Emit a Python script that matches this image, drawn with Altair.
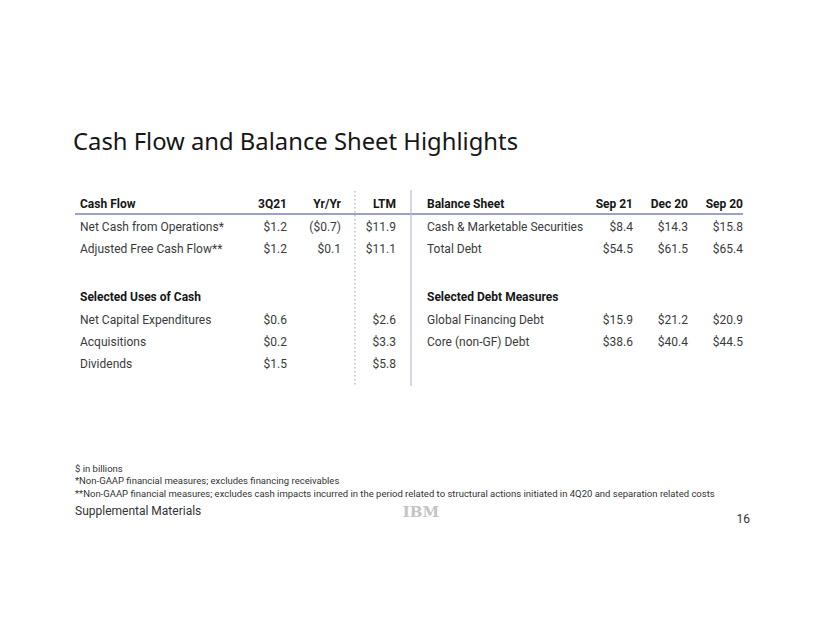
import altair as alt
import pandas as pd

# ---------------- data ----------------
title_text = "Cash Flow and Balance Sheet Highlights"

cf_header = ["Cash Flow", "3Q21", "Yr/Yr", "LTM"]
cf_labels = ["Net Cash from Operations*", "Adjusted Free Cash Flow**"]
cf_3q21 = ["$1.2", "$1.2"]
cf_yy = ["($0.7)", "$0.1"]
cf_ltm = ["$11.9", "$11.1"]

uses_header = "Selected Uses of Cash"
uses_labels = ["Net Capital Expenditures", "Acquisitions", "Dividends"]
uses_3q21 = ["$0.6", "$0.2", "$1.5"]
uses_ltm = ["$2.6", "$3.3", "$5.8"]

bs_header = ["Balance Sheet", "Sep 21", "Dec 20", "Sep 20"]
bs_labels = ["Cash & Marketable Securities", "Total Debt"]
bs_sep21 = ["$8.4", "$54.5"]
bs_dec20 = ["$14.3", "$61.5"]
bs_sep20 = ["$15.8", "$65.4"]

debt_header = "Selected Debt Measures"
debt_labels = ["Global Financing Debt", "Core (non-GF) Debt"]
debt_sep21 = ["$15.9", "$38.6"]
debt_dec20 = ["$21.2", "$40.4"]
debt_sep20 = ["$20.9", "$44.5"]

footnotes = [
    "$ in billions",
    "*Non-GAAP financial measures;  excludes financing receivables",
    "**Non-GAAP financial measures;  excludes cash impacts incurred in the period related to structural  actions initiated in 4Q20 and separation  related costs",
]
footer_left = "Supplemental Materials"
footer_logo = "IBM"
page_number = "16"

# ---------------- layout (page pixels) ----------------
W, H = 822 - 16, 635 - 16
left_cols_x = [80, 287, 341, 396]     # label (left aligned), then right edges
right_cols_x = [427, 633, 688, 743]
row_y = {"head": 204, "r1": 227, "r2": 249, "sec": 297, "s1": 320, "s2": 342, "s3": 364}

XS = alt.Scale(domain=[8, 8 + W], nice=False, zero=False)
YS = alt.Scale(domain=[8, 8 + H], nice=False, zero=False, reverse=True)

FONT = "Roboto"
BODY = "#3a3a3a"
DARK = "#161616"


def text_layer(df, align="left", weight="normal", size=12, color=BODY, font=FONT, baseline="middle"):
    return alt.Chart(df).mark_text(
        align=align, baseline=baseline, fontWeight=weight, fontSize=size,
        color=color, font=font
    ).encode(
        x=alt.X("x:Q", scale=XS, axis=None),
        y=alt.Y("y:Q", scale=YS, axis=None),
        text="t:N",
    )


# bold left labels (headers)
bold_left = pd.DataFrame([
    {"t": cf_header[0], "x": left_cols_x[0], "y": row_y["head"]},
    {"t": uses_header, "x": left_cols_x[0], "y": row_y["sec"]},
    {"t": bs_header[0], "x": right_cols_x[0], "y": row_y["head"]},
    {"t": debt_header, "x": right_cols_x[0], "y": row_y["sec"]},
])
# bold right headers
bold_right = pd.DataFrame(
    [{"t": cf_header[i], "x": left_cols_x[i], "y": row_y["head"]} for i in range(1, 4)]
    + [{"t": bs_header[i], "x": right_cols_x[i], "y": row_y["head"]} for i in range(1, 4)]
)

# normal left labels
rows_l = []
for lab, r in zip(cf_labels, ["r1", "r2"]):
    rows_l.append({"t": lab, "x": left_cols_x[0], "y": row_y[r]})
for lab, r in zip(uses_labels, ["s1", "s2", "s3"]):
    rows_l.append({"t": lab, "x": left_cols_x[0], "y": row_y[r]})
for lab, r in zip(bs_labels, ["r1", "r2"]):
    rows_l.append({"t": lab, "x": right_cols_x[0], "y": row_y[r]})
for lab, r in zip(debt_labels, ["s1", "s2"]):
    rows_l.append({"t": lab, "x": right_cols_x[0], "y": row_y[r]})
normal_left = pd.DataFrame(rows_l)

# values (right aligned)
rows_v = []
for i, r in enumerate(["r1", "r2"]):
    for col, arr in zip([1, 2, 3], [cf_3q21, cf_yy, cf_ltm]):
        rows_v.append({"t": arr[i], "x": left_cols_x[col], "y": row_y[r]})
    for col, arr in zip([1, 2, 3], [bs_sep21, bs_dec20, bs_sep20]):
        rows_v.append({"t": arr[i], "x": right_cols_x[col], "y": row_y[r]})
for i, r in enumerate(["s1", "s2", "s3"]):
    rows_v.append({"t": uses_3q21[i], "x": left_cols_x[1], "y": row_y[r]})
    rows_v.append({"t": uses_ltm[i], "x": left_cols_x[3], "y": row_y[r]})
for i, r in enumerate(["s1", "s2"]):
    for col, arr in zip([1, 2, 3], [debt_sep21, debt_dec20, debt_sep20]):
        rows_v.append({"t": arr[i], "x": right_cols_x[col], "y": row_y[r]})
values = pd.DataFrame(rows_v)

title_df = pd.DataFrame([{"t": title_text, "x": 73, "y": 150}])
foot_df = pd.DataFrame([{"t": f, "x": 75, "y": y} for f, y in zip(footnotes, [469, 481, 494])])
supp_df = pd.DataFrame([{"t": footer_left, "x": 75, "y": 511}])
logo_df = pd.DataFrame([{"t": footer_logo, "x": 421, "y": 512}])
page_df = pd.DataFrame([{"t": page_number, "x": 750, "y": 519}])

# rules
hrule = pd.DataFrame([{"x": 75, "x2": 743, "y": 214}])
dotted = pd.DataFrame([{"x": 355, "y": 191, "y2": 385}])
solid = pd.DataFrame([{"x": 411, "y": 190, "y2": 386}])

h_layer = alt.Chart(hrule).mark_rule(color="#7b82b8", strokeWidth=1.5).encode(
    x=alt.X("x:Q", scale=XS, axis=None), x2="x2:Q", y=alt.Y("y:Q", scale=YS, axis=None))
dot_layer = alt.Chart(dotted).mark_rule(color="#b0b0b8", strokeWidth=1.2, strokeDash=[1.5, 2.5]).encode(
    x=alt.X("x:Q", scale=XS, axis=None), y=alt.Y("y:Q", scale=YS, axis=None), y2="y2:Q")
sol_layer = alt.Chart(solid).mark_rule(color="#b9bdd6", strokeWidth=1.2).encode(
    x=alt.X("x:Q", scale=XS, axis=None), y=alt.Y("y:Q", scale=YS, axis=None), y2="y2:Q")

chart = alt.layer(
    h_layer, dot_layer, sol_layer,
    text_layer(title_df, size=23.8, color=DARK, baseline="alphabetic", font="Noto Sans"),
    text_layer(bold_left, weight="bold", color=DARK),
    text_layer(bold_right, align="right", weight="bold", color=DARK),
    text_layer(normal_left),
    text_layer(values, align="right"),
    text_layer(foot_df, size=9.5, color="#333333", font="Roboto"),
    text_layer(supp_df, size=12, color="#333333"),
    text_layer(logo_df, align="center", size=15, weight="bold", color="#c4c4c4", font="DejaVu Serif"),
    text_layer(page_df, align="right", size=12, color="#333333"),
).properties(
    width=W, height=H, autosize=alt.AutoSizeParams(type="none"), padding=0, background="white"
).configure_view(stroke=None)

chart.save("out.html", embed_options={"renderer": "svg", "actions": False})
